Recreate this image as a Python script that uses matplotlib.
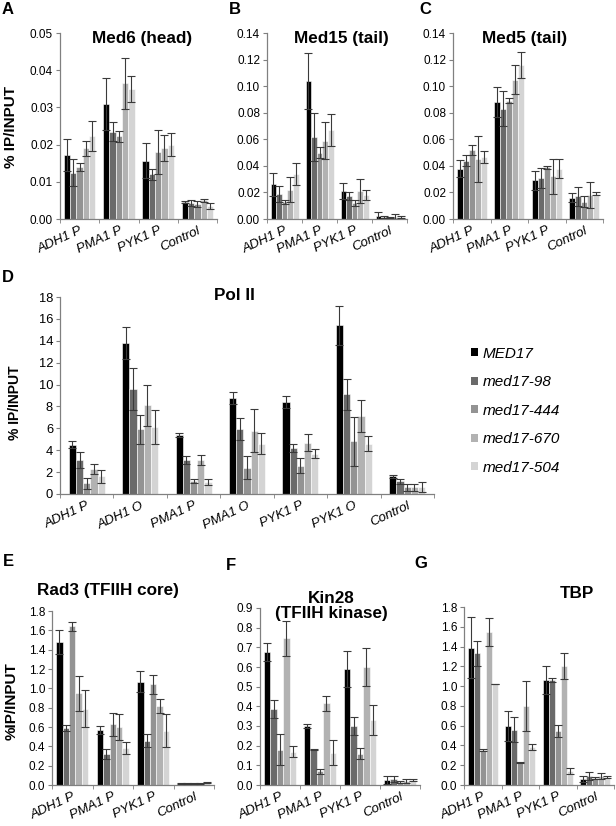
import numpy as np
import matplotlib
matplotlib.use("Agg")
import matplotlib.pyplot as plt
from matplotlib.transforms import ScaledTranslation

plt.rcParams['font.family'] = ['Liberation Sans', 'DejaVu Sans']

W, H = 616, 826

strains = ["MED17", "med17-98", "med17-444", "med17-670", "med17-504"]
colors = ["#000000", "#6a6a6a", "#939393", "#b2b2b2", "#d4d4d4"]

genes3 = ["ADH1 P", "PMA1 P", "PYK1 P", "Control"]
genes_pol = ["ADH1 P", "ADH1 O", "PMA1 P", "PMA1 O", "PYK1 P", "PYK1 O", "Control"]

# rows = genes, columns = strains
med6 = [[0.0172, 0.0125, 0.0140, 0.0190, 0.0223],
        [0.0310, 0.0235, 0.0222, 0.0365, 0.0350],
        [0.0157, 0.0120, 0.0180, 0.0190, 0.0200],
        [0.0045, 0.0043, 0.0040, 0.0050, 0.0035]]
med6_err = [[0.0043, 0.0035, 0.0011, 0.0020, 0.0041],
            [0.0070, 0.0025, 0.0014, 0.0068, 0.0035],
            [0.0048, 0.0015, 0.0060, 0.0035, 0.0030],
            [0.0003, 0.0009, 0.0008, 0.0005, 0.0007]]

med15 = [[0.026, 0.019, 0.013, 0.022, 0.034],
         [0.104, 0.062, 0.050, 0.059, 0.067],
         [0.021, 0.017, 0.012, 0.021, 0.018],
         [0.002, 0.0015, 0.001, 0.0015, 0.0015]]
med15_err = [[0.0085, 0.006, 0.0015, 0.0095, 0.0085],
             [0.021, 0.018, 0.004, 0.014, 0.012],
             [0.006, 0.003, 0.002, 0.009, 0.004],
             [0.003, 0.001, 0.0005, 0.002, 0.001]]

med5 = [[0.038, 0.044, 0.052, 0.045, 0.047],
        [0.088, 0.083, 0.089, 0.105, 0.116],
        [0.029, 0.031, 0.039, 0.032, 0.038],
        [0.016, 0.017, 0.013, 0.018, 0.019]]
med5_err = [[0.0065, 0.004, 0.004, 0.0175, 0.0045],
            [0.011, 0.013, 0.002, 0.011, 0.0095],
            [0.0075, 0.0075, 0.001, 0.0135, 0.007],
            [0.0035, 0.007, 0.004, 0.010, 0.001]]

pol2 = [[4.5, 3.1, 1.0, 2.3, 1.6],
        [13.8, 9.6, 5.9, 8.1, 6.1],
        [5.4, 3.1, 1.2, 3.1, 1.1],
        [8.8, 5.9, 2.4, 5.8, 4.6],
        [8.4, 4.2, 2.6, 4.7, 3.7],
        [15.4, 9.1, 4.8, 7.1, 4.6],
        [1.6, 1.15, 0.6, 0.6, 0.65]]
pol2_err = [[0.3, 0.7, 0.5, 0.45, 0.6],
            [1.5, 1.9, 1.35, 1.9, 1.55],
            [0.2, 0.35, 0.15, 0.45, 0.25],
            [0.55, 1.0, 1.05, 1.95, 0.95],
            [0.55, 0.4, 0.65, 0.8, 0.4],
            [1.8, 1.4, 2.2, 1.45, 0.7],
            [0.15, 0.25, 0.3, 0.3, 0.45]]

rad3 = [[1.48, 0.59, 1.64, 0.95, 0.79],
        [0.57, 0.32, 0.63, 0.60, 0.38],
        [1.07, 0.46, 1.04, 0.82, 0.56],
        [0.02, 0.02, 0.015, 0.02, 0.025]]
rad3_err = [[0.12, 0.03, 0.05, 0.18, 0.19],
            [0.045, 0.055, 0.12, 0.13, 0.06],
            [0.11, 0.065, 0.10, 0.07, 0.17],
            [0.005, 0.005, 0.003, 0.005, 0.005]]

kin28 = [[0.675, 0.385, 0.18, 0.745, 0.17],
         [0.30, 0.18, 0.07, 0.415, 0.165],
         [0.59, 0.30, 0.16, 0.60, 0.33],
         [0.025, 0.03, 0.015, 0.02, 0.025]]
kin28_err = [[0.045, 0.045, 0.08, 0.09, 0.03],
             [0.012, 0.003, 0.012, 0.04, 0.065],
             [0.09, 0.045, 0.03, 0.095, 0.075],
             [0.02, 0.015, 0.005, 0.01, 0.005]]

tbp = [[1.39, 1.33, 0.35, 1.55, 1.02],
       [0.60, 0.56, 0.23, 0.80, 0.38],
       [1.06, 1.06, 0.55, 1.20, 0.14],
       [0.06, 0.09, 0.07, 0.09, 0.08]]
tbp_err = [[0.31, 0.13, 0.01, 0.14, 0.003],
           [0.15, 0.13, 0.003, 0.25, 0.03],
           [0.14, 0.02, 0.06, 0.13, 0.03],
           [0.03, 0.04, 0.01, 0.03, 0.01]]


def box(l, r, t, b):
    return [l / W, 1 - b / H, (r - l) / W, (b - t) / H]


def panel(rect, vals, errs, cats, yticks, fmt, bw=0.16, fs=8.5, xfs=9.5):
    ax = fig.add_axes(rect)
    vals = np.array(vals).T
    errs = np.array(errs).T
    x = np.arange(len(cats))
    bars = []
    for i in range(5):
        pos = x + (i - 2) * bw
        b = ax.bar(pos, vals[i], bw, color=colors[i], edgecolor='white', lw=0.4,
                   label=strains[i], zorder=2)
        ax.errorbar(pos, vals[i], yerr=errs[i], fmt='none', ecolor='#3a3a3a',
                    elinewidth=0.8, capsize=2.8, capthick=0.8, zorder=3)
        bars.append(b)
    ax.set_xlim(-0.5, len(cats) - 0.5)
    ax.set_ylim(0, yticks[-1])
    ax.set_yticks(yticks)
    ax.set_yticklabels([fmt.format(v) for v in yticks], fontsize=fs)
    ax.set_xticks(x)
    ax.set_xticklabels(cats, fontsize=xfs, fontstyle='italic', rotation=25,
                       ha='right', rotation_mode='anchor')
    shift = ScaledTranslation(4 / 100, 0, fig.dpi_scale_trans)
    for lab in ax.get_xticklabels():
        lab.set_transform(lab.get_transform() + shift)
    ax.tick_params(axis='x', length=0, pad=4)
    ax.set_xticks(np.arange(len(cats) + 1) - 0.5, minor=True)
    ax.tick_params(axis='x', which='minor', length=3, direction='out', color='#808080')
    ax.tick_params(axis='y', length=3, direction='out', color='#808080', pad=2)
    for s in ['top', 'right']:
        ax.spines[s].set_visible(False)
    for s in ['left', 'bottom']:
        ax.spines[s].set_color('#808080')
        ax.spines[s].set_linewidth(0.9)
    return ax, bars


fig = plt.figure(figsize=(W / 100, H / 100), dpi=100)

axA, _ = panel(box(60, 217, 33, 219), med6, med6_err, genes3,
               np.arange(0, 0.051, 0.01), "{:.2f}")
axB, _ = panel(box(267, 407, 33, 219), med15, med15_err, genes3,
               np.arange(0, 0.141, 0.02), "{:.2f}")
axC, _ = panel(box(453, 603, 33, 219), med5, med5_err, genes3,
               np.arange(0, 0.141, 0.02), "{:.2f}")
axD, barsD = panel(box(60, 434, 297, 494), pol2, pol2_err, genes_pol,
                   np.arange(0, 18.1, 2), "{:.0f}", bw=0.135, fs=9.3)
axE, _ = panel(box(52, 214, 611, 785), rad3, rad3_err, genes3,
               np.arange(0, 1.81, 0.2), "{:.1f}")
axF, _ = panel(box(260, 420, 608, 785), kin28, kin28_err, genes3,
               np.arange(0, 0.91, 0.1), "{:.1f}")
axG, _ = panel(box(464, 614, 607, 785), tbp, tbp_err, genes3,
               np.arange(0, 1.81, 0.2), "{:.1f}")

# titles
tkw = dict(fontsize=12.3, fontweight='bold', ha='center', va='center')
fig.text(142 / W, 1 - 38 / H, "Med6 (head)", **tkw)
fig.text(341 / W, 1 - 38 / H, "Med15 (tail)", **tkw)
fig.text(525 / W, 1 - 38 / H, "Med5 (tail)", **tkw)
fig.text(234 / W, 1 - 296 / H, "Pol II", **tkw)
fig.text(108 / W, 1 - 591 / H, "Rad3 (TFIIH core)", **tkw)
fig.text(331 / W, 1 - 606 / H, "Kin28\n(TFIIH kinase)", linespacing=1.0, **tkw)
fig.text(577 / W, 1 - 594 / H, "TBP", **tkw)

# panel letters
lkw = dict(fontsize=12, fontweight='bold', ha='left', va='top')
for letter, px, py in [("A", 2, 2), ("B", 229, 2), ("C", 419, 2), ("D", 2, 270),
                       ("E", 3, 554), ("F", 226, 558), ("G", 414, 556)]:
    fig.text(px / W, 1 - py / H, letter, **lkw)

# y labels
ykw = dict(fontweight='bold', rotation=90, ha='center', va='center')
fig.text(11 / W, 1 - 127 / H, "% IP/INPUT", fontsize=11, **ykw)
fig.text(15 / W, 1 - 403 / H, "% IP/INPUT", fontsize=10, **ykw)
fig.text(12 / W, 1 - 701 / H, "%IP/INPUT", fontsize=11, **ykw)

# legend
leg = fig.legend(handles=barsD, labels=strains, loc='upper left',
                 bbox_to_anchor=(463 / W, 1 - 339 / H), frameon=False,
                 prop={'size': 11, 'style': 'italic'}, handlelength=0.45,
                 handleheight=0.45, handletextpad=0.35, labelspacing=0.95,
                 borderpad=0)
for h in leg.legend_handles:
    h.set_edgecolor('none')

fig.savefig("out.png", dpi=100)
